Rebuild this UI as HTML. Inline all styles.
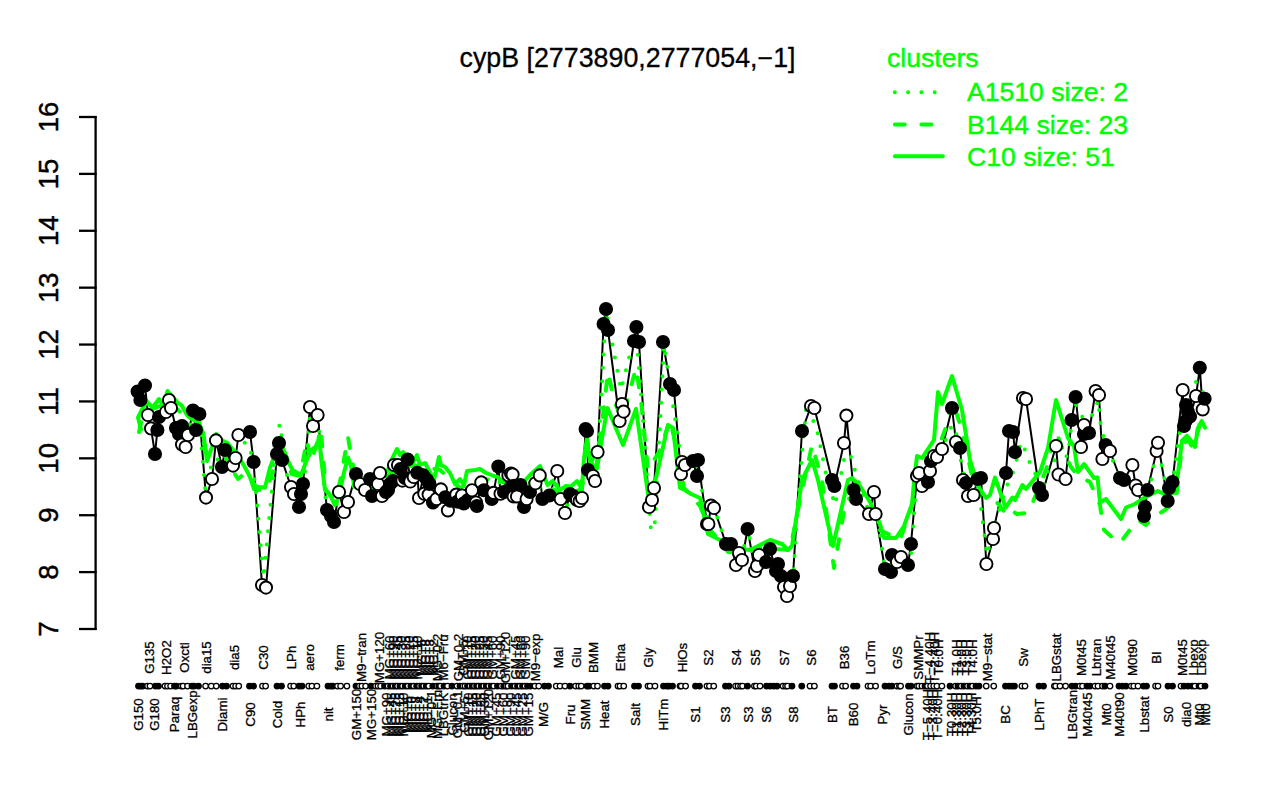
<!DOCTYPE html><html><head><meta charset="utf-8"><title>cypB</title><style>
html,body{margin:0;padding:0;background:#fff;}svg{display:block;}
text{font-family:"Liberation Sans",Arial,Helvetica,sans-serif;}
</style></head><body>
<svg width="1280" height="800" viewBox="0 0 1280 800">
<rect width="1280" height="800" fill="#fff"/>
<text x="627.5" y="67.2" font-size="26.8" text-anchor="middle" fill="#000" stroke="#000" stroke-width="0.3">cypB [2773890,2777054,−1]</text>
<g stroke="#000" stroke-width="2.3" fill="none" stroke-linecap="butt">
<line x1="95.6" y1="116" x2="95.6" y2="630"/>
<line x1="79" y1="629" x2="96.6" y2="629"/>
<line x1="79" y1="572.11" x2="96.6" y2="572.11"/>
<line x1="79" y1="515.22" x2="96.6" y2="515.22"/>
<line x1="79" y1="458.33" x2="96.6" y2="458.33"/>
<line x1="79" y1="401.44" x2="96.6" y2="401.44"/>
<line x1="79" y1="344.56" x2="96.6" y2="344.56"/>
<line x1="79" y1="287.67" x2="96.6" y2="287.67"/>
<line x1="79" y1="230.78" x2="96.6" y2="230.78"/>
<line x1="79" y1="173.89" x2="96.6" y2="173.89"/>
<line x1="79" y1="117" x2="96.6" y2="117"/>
</g>
<g font-size="27.5" text-anchor="middle" fill="#000" stroke="#000" stroke-width="0.45">
<text transform="translate(58.4 629) rotate(-90)">7</text>
<text transform="translate(58.4 572.11) rotate(-90)">8</text>
<text transform="translate(58.4 515.22) rotate(-90)">9</text>
<text transform="translate(58.4 458.33) rotate(-90)">10</text>
<text transform="translate(58.4 401.44) rotate(-90)">11</text>
<text transform="translate(58.4 344.56) rotate(-90)">12</text>
<text transform="translate(58.4 287.67) rotate(-90)">13</text>
<text transform="translate(58.4 230.78) rotate(-90)">14</text>
<text transform="translate(58.4 173.89) rotate(-90)">15</text>
<text transform="translate(58.4 117) rotate(-90)">16</text>
</g>
<g fill="#00ff00" font-size="26.6" stroke="#00ff00" stroke-width="0.45">
<text x="887" y="66.7">clusters</text>
<text x="967" y="101.3">A1510 size: 2</text>
<text x="967" y="133.6">B144 size: 23</text>
<text x="967" y="165.8">C10 size: 51</text>
</g>
<g stroke="#00ff00" stroke-width="4" fill="none">
<line x1="894.8" y1="92.3" x2="943" y2="92.3" stroke-dasharray="0 13.3" stroke-linecap="round"/>
<line x1="894.9" y1="124.5" x2="943" y2="124.5" stroke-dasharray="9.9 16.6" stroke-linecap="round"/>
<line x1="894.9" y1="156.3" x2="942.8" y2="156.3" stroke-linecap="round"/>
</g>
<polyline points="137.6,391.6 140.4,400 145,385.6 148,415 151,428.4 155,454 157.4,430 159,417 166,412 169,400 171,408 176,428 179,434 182,426 182,444.5 185.6,447 188,435 193,410.6 196,430 199.4,414 206,497.6 212,479 216,440.4 222,467 225,450 233,465.6 235.6,458 238.4,435 250,432 253.6,462 262,585 266,587.6 277,454 279,443 282,460 291,487 294,494 299,507 301,494 303,484 310,407 313,426 317.6,415 327,510 331,516 334,522 339,492 344,512 348,502 356,474 360,484 365,490 370,479 372,496 378,484 380,473 382,496 386,492 388,490 390,484 393,481 394,465 398,465 400.6,469 402.4,480.6 405,478 407.6,459.6 410.25,481.5 413.75,477 417.25,472.75 419,498 423.4,475.4 424.25,493.75 426.9,479.75 428.6,494.6 429.5,484 433,502.5 436.5,499 440.9,489.4 445.25,497.25 447.9,510.4 450.5,500.75 455,499 455.75,495.5 456.3,494.6 457.6,501.6 462,495.5 463.75,503.4 468,500 472,490.25 476,502.5 476.9,506 481.25,482.4 483.9,490.25 491.75,499 493.5,492.9 498.3,466.6 500.5,493.75 504,492 508.4,475.4 511,486.75 511,473.6 512.6,474.5 513.6,496.4 514.4,485.9 517,496.4 520.5,485 524,506.9 526.6,499 530,492 535.4,483.25 539.75,475.4 542.4,499 549.4,495.5 557.25,471 560.75,499 565,513 570,494 573,496 577,500 579.6,501 582,498 585.6,429 587,431 588,470 593,476 595,481 597.6,452 603.6,324 606,309 608,330 619.6,421 622,404 623.6,411.6 634,341 636.4,327 639,342 649,507 652,500 654,488 663,342 670,384 674,390 681,474 682,462 685,465 693,461 697,476 698,460 707,524 708.4,524 711,505.6 714,508 726,544 731,544 736,565 739,553 742,560 747.6,529 755,571 757,566 759,555 766,562 770,549 776,571 778,564 781,576 784,587 787,596 790,586 793,576 802,431 811,406 814.4,408 832,480 834.4,486 844,443 846.4,415.6 853.6,490 856,499 869,514 874,492 875.6,514 885,569 891,572 892,555 897,562 901,557 908,565 911,544 917,476 919,473 922,486 928,482 930,471 931,461 934,456 937,457 942,449 952,408 956,442 960,448 963,480 966,483 968,496 973.6,495 977.6,479 981,478 986.4,564 993,539 994,528 1006,473 1009,431 1013,432 1015,452 1023,398 1026,399 1039,488 1042,495 1056,446 1058.5,474.5 1065.6,479 1071.6,420 1075.6,397 1081,447 1084,434 1084,425 1089,433 1095.6,391 1099,395 1102.4,459 1105.6,445 1110,451 1120,478 1124,480 1132.4,465 1135.6,485.5 1138,490 1144,516 1145,507 1147.5,490 1156.6,451 1158,442.7 1167.7,501 1169,488 1172.5,482 1182.7,390 1184,426 1185.5,421.3 1186,405 1188,412 1190,416.5 1196,396 1199.8,367.8 1202.7,409.4 1204.6,398.7" fill="none" stroke="#000" stroke-width="2" stroke-linejoin="round"/>
<g fill="none" stroke="#00ff00" stroke-linejoin="round">
<polyline points="137.6,395.8 140.4,395.8 145,400.3 148,409.67 151,432.47 155,432.35 157.4,433.67 159,433.67 166,406 169,406.67 171,404 176,431 179,433.12 182,437.88 182,437.88 185.6,438.12 188,441 193,420.3 196,418.2 199.4,422 206,497.6 212,459.7 216,459.7 222,458.5 225,458.5 233,461.8 235.6,452.87 238.4,446.5 246,442 251,453 256,492 263.5,578 272.5,484 277,431 280,424 287.5,479 291,490.5 294,490.5 299,495 301,495 303,495 310,416.5 313,416.5 317.6,415 327,513 331,516 334,519 339,492 344,507 348,507 356,479 360,479 365,490 370,487.5 372,487.5 378,484.33 380,484.33 382,486.25 386,490.5 388,488.67 390,482.4 393,476.67 394,473.75 398,466.33 400.6,471.53 402.4,475.87 405,472.73 407.6,473.03 410.25,472.7 413.75,477.08 417.25,482.58 419,485.38 423.4,482.97 424.25,482.97 426.9,485.5 428.6,486.12 429.5,490.21 433,495.17 436.5,500.75 440.9,489.4 445.25,503.82 447.9,502.8 450.5,505.57 455,497.68 455.75,497.68 456.3,497.68 457.6,497.68 462,499.45 463.75,499.45 468,495.12 472,497.58 476,499.58 476.9,504.25 481.25,486.32 483.9,486.32 491.75,495.95 493.5,495.95 498.3,480.18 500.5,484.12 504,492.88 508.4,478.58 511,482.09 511,482.09 512.6,483.43 513.6,485.59 514.4,485.59 517,490.92 520.5,496.1 524,496.97 526.6,499.3 530,495.5 535.4,483.25 539.75,487.2 542.4,487.2 549.4,495.5 557.25,485 560.75,485 565,513 570,495 573,496.67 577,499 579.6,499.67 582,476 585.6,457 587,443.33 588,443.33 593,478.5 595,469.67 598,456 606,310 621,390 636,330 643,420 651,531 655,522 664,345 680,452 684,470 685,467 693,468.5 697,465.67 698,468 707,517.87 708.4,517.87 711,515.4 714,506.8 726,544 731,544 736,559 739,559.33 742,556.5 747.6,529 755,564 757,564 759,564 766,555.5 770,555.5 776,567.5 778,570.33 781,575.67 784,586.33 787,589.67 790,586 793,581 798,500 806,410 816,425 826,474 835,505 845,455 850,454 858,480 869,514 874,503 875.6,503 885,569 891,563.5 892,563.5 897,559.5 901,559.5 908,554.5 911,554.5 917,474.5 919,478.33 922,479.5 928,471.33 930,467.5 931,467.5 934,461.25 937,456.5 942,449 952,425 956,432.67 960,456.67 963,470.33 966,486.33 968,489.5 973.6,487 977.6,484 980,500 987,555 998,514 1006,488 1014,470 1021,442 1027,454 1031,467 1038,478 1042,491.5 1048,470 1056,458 1068,456 1071,429 1076,405 1084,420 1094,414 1098,400 1101,428 1106,445 1113,461 1118,470 1120,479 1124,479 1132.4,475.25 1135.6,480.17 1138,487.75 1144,504.33 1145,504.33 1147.5,504.33 1156.6,446.85 1158,446.85 1167.7,494.5 1169,490.33 1172.5,485 1182.7,410.57 1184,410.86 1185.5,410.86 1186,411.8 1188,416.16 1190,411.17 1196,381.9 1199.8,391.07 1202.7,391.97 1204.6,404.05" stroke-width="4" stroke-dasharray="0 13.3" stroke-linecap="round"/>
<polyline points="139,432 142,418 150,410 160,406 168,400 180,412 188,424 200,428 206,452 214,452 222,450 230,466 238,479 244,474 252,480 258,490 266,490 272,474 280,452 292,474 300,476 307,440 311,462 318,440 321,432 326,490 334,500 340,482 348,437 352,462 360,486 380,484 400,464 420,466 440,470 460,488 480,478 500,482 520,486 540,480 560,494 580,490 590,466 600,440 608,372 614,400 622,420 636,368 641,400 648,470 660,450 670,420 676,445 684,488 700,506 710,530 730,552 760,548 790,550 800,500 812,445 822,480 834,568 846,500 860,494 880,530 900,540 914,500 930,470 945,430 952,400 962,430 975,490 995,500 1008,516 1012,511 1017,514 1027.5,513 1032.5,503 1046,470 1056,432 1066,457 1071,467 1078,476 1090,482 1100,505 1102,519 1104,530 1114,539 1119,543 1123,539 1132,527 1138,520 1146,525 1152,518 1165,510 1176,500 1182,445 1188,440 1193,448 1200,424 1206,428" stroke-width="4" stroke-dasharray="9.9 16.6" stroke-linecap="round"/>
<polyline points="141,429.5 138,417.5 142,409.5 146.5,401 152.5,407.7 159,399 163,405.5 167.5,391 178,403 181.75,405.5 187,415 190,418 199,422.75 203.5,434 207,461 212,447 216.25,434 221.5,440 227.5,443 235,452 244,465.5 250,477 254,489 258,487 265,487.5 270,467.5 274,457.5 280,446 283.75,450 288.75,462.5 292.5,470 301,475 306,462 310,451 317.5,445 319,436 321,457.5 325,490 330,495 335,505 339,496 344,472.5 348,457.5 351,466 354,485 360,482 366,486 372,488 380,480 388,470 392,459 397,449 400,455 403,452 408,458 411,466 417,455 420,465 425,463 430,472 434,480 439,457 441,465 445,467 450,473 455,484 460,479 464,485 467,471 475,470 480,469 485.6,472.75 490,474.5 494.4,476.25 497.9,477 501.4,481.5 509,472 515,478 522,484 530,475 540,466 547.5,485 552.5,481 560,490 566,486 571,486.5 577,481 582,489 584,458 587,438 590,462 597,468.5 603,432.5 607.5,408 623,445 636,409 648,494 656,478 668,425 673,428 680,488 685,490 691,494 700,498 708,534 720,540 728,552 740,549 750,550 760,545 770,540 782,544 788,550 792,546 802,480 812,460 818,480 833,546 848,480 852,478 860,486 870,502 880,524 884,538 896,538 904,526 912,504 914,482 917,456 922,458 934,440 938,392 942,404 952,376 962,410 970,460 978,486 986,498 990,495 995,477.5 1005.6,507.5 1012.5,497.5 1015,500 1022.5,485 1026,489 1040,472 1048,448 1056,400 1068,438 1074,446 1078,472 1084,464 1094,478 1097.5,477.5 1100,502.5 1106,499 1121,519 1126,507.5 1135,504 1144.75,497.5 1157.75,491 1164,494 1175.6,492.7 1182,440.6 1187,435.8 1192,442 1195,447 1197.6,429 1201.7,421 1205,427.6" stroke-width="4" stroke-linecap="round"/>
</g>
<circle cx="137.6" cy="391.6" r="6.1" fill="#000" stroke="#000" stroke-width="1.9"/>
<circle cx="140.4" cy="400" r="6.1" fill="#000" stroke="#000" stroke-width="1.9"/>
<circle cx="145" cy="385.6" r="6.1" fill="#000" stroke="#000" stroke-width="1.9"/>
<circle cx="148" cy="415" r="6.1" fill="#fff" stroke="#000" stroke-width="1.9"/>
<circle cx="151" cy="428.4" r="6.1" fill="#fff" stroke="#000" stroke-width="1.9"/>
<circle cx="155" cy="454" r="6.1" fill="#000" stroke="#000" stroke-width="1.9"/>
<circle cx="157.4" cy="430" r="6.1" fill="#000" stroke="#000" stroke-width="1.9"/>
<circle cx="159" cy="417" r="6.1" fill="#000" stroke="#000" stroke-width="1.9"/>
<circle cx="166" cy="412" r="6.1" fill="#fff" stroke="#000" stroke-width="1.9"/>
<circle cx="169" cy="400" r="6.1" fill="#fff" stroke="#000" stroke-width="1.9"/>
<circle cx="171" cy="408" r="6.1" fill="#fff" stroke="#000" stroke-width="1.9"/>
<circle cx="176" cy="428" r="6.1" fill="#000" stroke="#000" stroke-width="1.9"/>
<circle cx="179" cy="434" r="6.1" fill="#000" stroke="#000" stroke-width="1.9"/>
<circle cx="182" cy="426" r="6.1" fill="#000" stroke="#000" stroke-width="1.9"/>
<circle cx="182" cy="444.5" r="6.1" fill="#fff" stroke="#000" stroke-width="1.9"/>
<circle cx="185.6" cy="447" r="6.1" fill="#fff" stroke="#000" stroke-width="1.9"/>
<circle cx="188" cy="435" r="6.1" fill="#fff" stroke="#000" stroke-width="1.9"/>
<circle cx="193" cy="410.6" r="6.1" fill="#000" stroke="#000" stroke-width="1.9"/>
<circle cx="196" cy="430" r="6.1" fill="#000" stroke="#000" stroke-width="1.9"/>
<circle cx="199.4" cy="414" r="6.1" fill="#000" stroke="#000" stroke-width="1.9"/>
<circle cx="206" cy="497.6" r="6.1" fill="#fff" stroke="#000" stroke-width="1.9"/>
<circle cx="212" cy="479" r="6.1" fill="#fff" stroke="#000" stroke-width="1.9"/>
<circle cx="216" cy="440.4" r="6.1" fill="#fff" stroke="#000" stroke-width="1.9"/>
<circle cx="222" cy="467" r="6.1" fill="#000" stroke="#000" stroke-width="1.9"/>
<circle cx="225" cy="450" r="6.1" fill="#000" stroke="#000" stroke-width="1.9"/>
<circle cx="233" cy="465.6" r="6.1" fill="#fff" stroke="#000" stroke-width="1.9"/>
<circle cx="235.6" cy="458" r="6.1" fill="#fff" stroke="#000" stroke-width="1.9"/>
<circle cx="238.4" cy="435" r="6.1" fill="#fff" stroke="#000" stroke-width="1.9"/>
<circle cx="250" cy="432" r="6.1" fill="#000" stroke="#000" stroke-width="1.9"/>
<circle cx="253.6" cy="462" r="6.1" fill="#000" stroke="#000" stroke-width="1.9"/>
<circle cx="262" cy="585" r="6.1" fill="#fff" stroke="#000" stroke-width="1.9"/>
<circle cx="266" cy="587.6" r="6.1" fill="#fff" stroke="#000" stroke-width="1.9"/>
<circle cx="277" cy="454" r="6.1" fill="#000" stroke="#000" stroke-width="1.9"/>
<circle cx="279" cy="443" r="6.1" fill="#000" stroke="#000" stroke-width="1.9"/>
<circle cx="282" cy="460" r="6.1" fill="#000" stroke="#000" stroke-width="1.9"/>
<circle cx="291" cy="487" r="6.1" fill="#fff" stroke="#000" stroke-width="1.9"/>
<circle cx="294" cy="494" r="6.1" fill="#fff" stroke="#000" stroke-width="1.9"/>
<circle cx="299" cy="507" r="6.1" fill="#000" stroke="#000" stroke-width="1.9"/>
<circle cx="301" cy="494" r="6.1" fill="#000" stroke="#000" stroke-width="1.9"/>
<circle cx="303" cy="484" r="6.1" fill="#000" stroke="#000" stroke-width="1.9"/>
<circle cx="310" cy="407" r="6.1" fill="#fff" stroke="#000" stroke-width="1.9"/>
<circle cx="313" cy="426" r="6.1" fill="#fff" stroke="#000" stroke-width="1.9"/>
<circle cx="317.6" cy="415" r="6.1" fill="#fff" stroke="#000" stroke-width="1.9"/>
<circle cx="327" cy="510" r="6.1" fill="#000" stroke="#000" stroke-width="1.9"/>
<circle cx="331" cy="516" r="6.1" fill="#000" stroke="#000" stroke-width="1.9"/>
<circle cx="334" cy="522" r="6.1" fill="#000" stroke="#000" stroke-width="1.9"/>
<circle cx="339" cy="492" r="6.1" fill="#fff" stroke="#000" stroke-width="1.9"/>
<circle cx="344" cy="512" r="6.1" fill="#fff" stroke="#000" stroke-width="1.9"/>
<circle cx="348" cy="502" r="6.1" fill="#fff" stroke="#000" stroke-width="1.9"/>
<circle cx="356" cy="474" r="6.1" fill="#000" stroke="#000" stroke-width="1.9"/>
<circle cx="360" cy="484" r="6.1" fill="#fff" stroke="#000" stroke-width="1.9"/>
<circle cx="365" cy="490" r="6.1" fill="#fff" stroke="#000" stroke-width="1.9"/>
<circle cx="370" cy="479" r="6.1" fill="#000" stroke="#000" stroke-width="1.9"/>
<circle cx="372" cy="496" r="6.1" fill="#000" stroke="#000" stroke-width="1.9"/>
<circle cx="378" cy="484" r="6.1" fill="#fff" stroke="#000" stroke-width="1.9"/>
<circle cx="380" cy="473" r="6.1" fill="#fff" stroke="#000" stroke-width="1.9"/>
<circle cx="382" cy="496" r="6.1" fill="#fff" stroke="#000" stroke-width="1.9"/>
<circle cx="386" cy="492" r="6.1" fill="#000" stroke="#000" stroke-width="1.9"/>
<circle cx="388" cy="490" r="6.1" fill="#000" stroke="#000" stroke-width="1.9"/>
<circle cx="390" cy="484" r="6.1" fill="#000" stroke="#000" stroke-width="1.9"/>
<circle cx="393" cy="481" r="6.1" fill="#000" stroke="#000" stroke-width="1.9"/>
<circle cx="394" cy="465" r="6.1" fill="#fff" stroke="#000" stroke-width="1.9"/>
<circle cx="398" cy="465" r="6.1" fill="#fff" stroke="#000" stroke-width="1.9"/>
<circle cx="400.6" cy="469" r="6.1" fill="#000" stroke="#000" stroke-width="1.9"/>
<circle cx="402.4" cy="480.6" r="6.1" fill="#fff" stroke="#000" stroke-width="1.9"/>
<circle cx="405" cy="478" r="6.1" fill="#000" stroke="#000" stroke-width="1.9"/>
<circle cx="407.6" cy="459.6" r="6.1" fill="#000" stroke="#000" stroke-width="1.9"/>
<circle cx="410.25" cy="481.5" r="6.1" fill="#fff" stroke="#000" stroke-width="1.9"/>
<circle cx="413.75" cy="477" r="6.1" fill="#fff" stroke="#000" stroke-width="1.9"/>
<circle cx="417.25" cy="472.75" r="6.1" fill="#000" stroke="#000" stroke-width="1.9"/>
<circle cx="419" cy="498" r="6.1" fill="#fff" stroke="#000" stroke-width="1.9"/>
<circle cx="423.4" cy="475.4" r="6.1" fill="#000" stroke="#000" stroke-width="1.9"/>
<circle cx="424.25" cy="493.75" r="6.1" fill="#fff" stroke="#000" stroke-width="1.9"/>
<circle cx="426.9" cy="479.75" r="6.1" fill="#000" stroke="#000" stroke-width="1.9"/>
<circle cx="428.6" cy="494.6" r="6.1" fill="#fff" stroke="#000" stroke-width="1.9"/>
<circle cx="429.5" cy="484" r="6.1" fill="#000" stroke="#000" stroke-width="1.9"/>
<circle cx="433" cy="502.5" r="6.1" fill="#000" stroke="#000" stroke-width="1.9"/>
<circle cx="436.5" cy="499" r="6.1" fill="#fff" stroke="#000" stroke-width="1.9"/>
<circle cx="440.9" cy="489.4" r="6.1" fill="#fff" stroke="#000" stroke-width="1.9"/>
<circle cx="445.25" cy="497.25" r="6.1" fill="#000" stroke="#000" stroke-width="1.9"/>
<circle cx="447.9" cy="510.4" r="6.1" fill="#fff" stroke="#000" stroke-width="1.9"/>
<circle cx="450.5" cy="500.75" r="6.1" fill="#000" stroke="#000" stroke-width="1.9"/>
<circle cx="455" cy="499" r="6.1" fill="#000" stroke="#000" stroke-width="1.9"/>
<circle cx="455.75" cy="495.5" r="6.1" fill="#fff" stroke="#000" stroke-width="1.9"/>
<circle cx="456.3" cy="494.6" r="6.1" fill="#fff" stroke="#000" stroke-width="1.9"/>
<circle cx="457.6" cy="501.6" r="6.1" fill="#000" stroke="#000" stroke-width="1.9"/>
<circle cx="462" cy="495.5" r="6.1" fill="#fff" stroke="#000" stroke-width="1.9"/>
<circle cx="463.75" cy="503.4" r="6.1" fill="#000" stroke="#000" stroke-width="1.9"/>
<circle cx="468" cy="500" r="6.1" fill="#000" stroke="#000" stroke-width="1.9"/>
<circle cx="472" cy="490.25" r="6.1" fill="#fff" stroke="#000" stroke-width="1.9"/>
<circle cx="476" cy="502.5" r="6.1" fill="#fff" stroke="#000" stroke-width="1.9"/>
<circle cx="476.9" cy="506" r="6.1" fill="#000" stroke="#000" stroke-width="1.9"/>
<circle cx="481.25" cy="482.4" r="6.1" fill="#fff" stroke="#000" stroke-width="1.9"/>
<circle cx="483.9" cy="490.25" r="6.1" fill="#000" stroke="#000" stroke-width="1.9"/>
<circle cx="491.75" cy="499" r="6.1" fill="#000" stroke="#000" stroke-width="1.9"/>
<circle cx="493.5" cy="492.9" r="6.1" fill="#fff" stroke="#000" stroke-width="1.9"/>
<circle cx="498.3" cy="466.6" r="6.1" fill="#000" stroke="#000" stroke-width="1.9"/>
<circle cx="500.5" cy="493.75" r="6.1" fill="#fff" stroke="#000" stroke-width="1.9"/>
<circle cx="504" cy="492" r="6.1" fill="#000" stroke="#000" stroke-width="1.9"/>
<circle cx="508.4" cy="475.4" r="6.1" fill="#fff" stroke="#000" stroke-width="1.9"/>
<circle cx="511" cy="486.75" r="6.1" fill="#000" stroke="#000" stroke-width="1.9"/>
<circle cx="511" cy="473.6" r="6.1" fill="#fff" stroke="#000" stroke-width="1.9"/>
<circle cx="512.6" cy="474.5" r="6.1" fill="#fff" stroke="#000" stroke-width="1.9"/>
<circle cx="513.6" cy="496.4" r="6.1" fill="#fff" stroke="#000" stroke-width="1.9"/>
<circle cx="514.4" cy="485.9" r="6.1" fill="#000" stroke="#000" stroke-width="1.9"/>
<circle cx="517" cy="496.4" r="6.1" fill="#fff" stroke="#000" stroke-width="1.9"/>
<circle cx="520.5" cy="485" r="6.1" fill="#000" stroke="#000" stroke-width="1.9"/>
<circle cx="524" cy="506.9" r="6.1" fill="#000" stroke="#000" stroke-width="1.9"/>
<circle cx="526.6" cy="499" r="6.1" fill="#fff" stroke="#000" stroke-width="1.9"/>
<circle cx="530" cy="492" r="6.1" fill="#000" stroke="#000" stroke-width="1.9"/>
<circle cx="535.4" cy="483.25" r="6.1" fill="#fff" stroke="#000" stroke-width="1.9"/>
<circle cx="539.75" cy="475.4" r="6.1" fill="#fff" stroke="#000" stroke-width="1.9"/>
<circle cx="542.4" cy="499" r="6.1" fill="#000" stroke="#000" stroke-width="1.9"/>
<circle cx="549.4" cy="495.5" r="6.1" fill="#000" stroke="#000" stroke-width="1.9"/>
<circle cx="557.25" cy="471" r="6.1" fill="#fff" stroke="#000" stroke-width="1.9"/>
<circle cx="560.75" cy="499" r="6.1" fill="#fff" stroke="#000" stroke-width="1.9"/>
<circle cx="565" cy="513" r="6.1" fill="#fff" stroke="#000" stroke-width="1.9"/>
<circle cx="570" cy="494" r="6.1" fill="#000" stroke="#000" stroke-width="1.9"/>
<circle cx="573" cy="496" r="6.1" fill="#000" stroke="#000" stroke-width="1.9"/>
<circle cx="577" cy="500" r="6.1" fill="#fff" stroke="#000" stroke-width="1.9"/>
<circle cx="579.6" cy="501" r="6.1" fill="#fff" stroke="#000" stroke-width="1.9"/>
<circle cx="582" cy="498" r="6.1" fill="#fff" stroke="#000" stroke-width="1.9"/>
<circle cx="585.6" cy="429" r="6.1" fill="#000" stroke="#000" stroke-width="1.9"/>
<circle cx="587" cy="431" r="6.1" fill="#000" stroke="#000" stroke-width="1.9"/>
<circle cx="588" cy="470" r="6.1" fill="#000" stroke="#000" stroke-width="1.9"/>
<circle cx="593" cy="476" r="6.1" fill="#fff" stroke="#000" stroke-width="1.9"/>
<circle cx="595" cy="481" r="6.1" fill="#fff" stroke="#000" stroke-width="1.9"/>
<circle cx="597.6" cy="452" r="6.1" fill="#fff" stroke="#000" stroke-width="1.9"/>
<circle cx="603.6" cy="324" r="6.1" fill="#000" stroke="#000" stroke-width="1.9"/>
<circle cx="606" cy="309" r="6.1" fill="#000" stroke="#000" stroke-width="1.9"/>
<circle cx="608" cy="330" r="6.1" fill="#000" stroke="#000" stroke-width="1.9"/>
<circle cx="619.6" cy="421" r="6.1" fill="#fff" stroke="#000" stroke-width="1.9"/>
<circle cx="622" cy="404" r="6.1" fill="#fff" stroke="#000" stroke-width="1.9"/>
<circle cx="623.6" cy="411.6" r="6.1" fill="#fff" stroke="#000" stroke-width="1.9"/>
<circle cx="634" cy="341" r="6.1" fill="#000" stroke="#000" stroke-width="1.9"/>
<circle cx="636.4" cy="327" r="6.1" fill="#000" stroke="#000" stroke-width="1.9"/>
<circle cx="639" cy="342" r="6.1" fill="#000" stroke="#000" stroke-width="1.9"/>
<circle cx="649" cy="507" r="6.1" fill="#fff" stroke="#000" stroke-width="1.9"/>
<circle cx="652" cy="500" r="6.1" fill="#fff" stroke="#000" stroke-width="1.9"/>
<circle cx="654" cy="488" r="6.1" fill="#fff" stroke="#000" stroke-width="1.9"/>
<circle cx="663" cy="342" r="6.1" fill="#000" stroke="#000" stroke-width="1.9"/>
<circle cx="670" cy="384" r="6.1" fill="#000" stroke="#000" stroke-width="1.9"/>
<circle cx="674" cy="390" r="6.1" fill="#000" stroke="#000" stroke-width="1.9"/>
<circle cx="681" cy="474" r="6.1" fill="#fff" stroke="#000" stroke-width="1.9"/>
<circle cx="682" cy="462" r="6.1" fill="#fff" stroke="#000" stroke-width="1.9"/>
<circle cx="685" cy="465" r="6.1" fill="#fff" stroke="#000" stroke-width="1.9"/>
<circle cx="693" cy="461" r="6.1" fill="#000" stroke="#000" stroke-width="1.9"/>
<circle cx="697" cy="476" r="6.1" fill="#000" stroke="#000" stroke-width="1.9"/>
<circle cx="698" cy="460" r="6.1" fill="#000" stroke="#000" stroke-width="1.9"/>
<circle cx="707" cy="524" r="6.1" fill="#fff" stroke="#000" stroke-width="1.9"/>
<circle cx="708.4" cy="524" r="6.1" fill="#fff" stroke="#000" stroke-width="1.9"/>
<circle cx="711" cy="505.6" r="6.1" fill="#fff" stroke="#000" stroke-width="1.9"/>
<circle cx="714" cy="508" r="6.1" fill="#fff" stroke="#000" stroke-width="1.9"/>
<circle cx="726" cy="544" r="6.1" fill="#000" stroke="#000" stroke-width="1.9"/>
<circle cx="731" cy="544" r="6.1" fill="#000" stroke="#000" stroke-width="1.9"/>
<circle cx="736" cy="565" r="6.1" fill="#fff" stroke="#000" stroke-width="1.9"/>
<circle cx="739" cy="553" r="6.1" fill="#fff" stroke="#000" stroke-width="1.9"/>
<circle cx="742" cy="560" r="6.1" fill="#fff" stroke="#000" stroke-width="1.9"/>
<circle cx="747.6" cy="529" r="6.1" fill="#000" stroke="#000" stroke-width="1.9"/>
<circle cx="755" cy="571" r="6.1" fill="#fff" stroke="#000" stroke-width="1.9"/>
<circle cx="757" cy="566" r="6.1" fill="#fff" stroke="#000" stroke-width="1.9"/>
<circle cx="759" cy="555" r="6.1" fill="#fff" stroke="#000" stroke-width="1.9"/>
<circle cx="766" cy="562" r="6.1" fill="#000" stroke="#000" stroke-width="1.9"/>
<circle cx="770" cy="549" r="6.1" fill="#000" stroke="#000" stroke-width="1.9"/>
<circle cx="776" cy="571" r="6.1" fill="#000" stroke="#000" stroke-width="1.9"/>
<circle cx="778" cy="564" r="6.1" fill="#000" stroke="#000" stroke-width="1.9"/>
<circle cx="781" cy="576" r="6.1" fill="#000" stroke="#000" stroke-width="1.9"/>
<circle cx="784" cy="587" r="6.1" fill="#fff" stroke="#000" stroke-width="1.9"/>
<circle cx="787" cy="596" r="6.1" fill="#fff" stroke="#000" stroke-width="1.9"/>
<circle cx="790" cy="586" r="6.1" fill="#fff" stroke="#000" stroke-width="1.9"/>
<circle cx="793" cy="576" r="6.1" fill="#000" stroke="#000" stroke-width="1.9"/>
<circle cx="802" cy="431" r="6.1" fill="#000" stroke="#000" stroke-width="1.9"/>
<circle cx="811" cy="406" r="6.1" fill="#fff" stroke="#000" stroke-width="1.9"/>
<circle cx="814.4" cy="408" r="6.1" fill="#fff" stroke="#000" stroke-width="1.9"/>
<circle cx="832" cy="480" r="6.1" fill="#000" stroke="#000" stroke-width="1.9"/>
<circle cx="834.4" cy="486" r="6.1" fill="#000" stroke="#000" stroke-width="1.9"/>
<circle cx="844" cy="443" r="6.1" fill="#fff" stroke="#000" stroke-width="1.9"/>
<circle cx="846.4" cy="415.6" r="6.1" fill="#fff" stroke="#000" stroke-width="1.9"/>
<circle cx="853.6" cy="490" r="6.1" fill="#000" stroke="#000" stroke-width="1.9"/>
<circle cx="856" cy="499" r="6.1" fill="#000" stroke="#000" stroke-width="1.9"/>
<circle cx="869" cy="514" r="6.1" fill="#fff" stroke="#000" stroke-width="1.9"/>
<circle cx="874" cy="492" r="6.1" fill="#fff" stroke="#000" stroke-width="1.9"/>
<circle cx="875.6" cy="514" r="6.1" fill="#fff" stroke="#000" stroke-width="1.9"/>
<circle cx="885" cy="569" r="6.1" fill="#000" stroke="#000" stroke-width="1.9"/>
<circle cx="891" cy="572" r="6.1" fill="#000" stroke="#000" stroke-width="1.9"/>
<circle cx="892" cy="555" r="6.1" fill="#000" stroke="#000" stroke-width="1.9"/>
<circle cx="897" cy="562" r="6.1" fill="#fff" stroke="#000" stroke-width="1.9"/>
<circle cx="901" cy="557" r="6.1" fill="#fff" stroke="#000" stroke-width="1.9"/>
<circle cx="908" cy="565" r="6.1" fill="#000" stroke="#000" stroke-width="1.9"/>
<circle cx="911" cy="544" r="6.1" fill="#000" stroke="#000" stroke-width="1.9"/>
<circle cx="917" cy="476" r="6.1" fill="#fff" stroke="#000" stroke-width="1.9"/>
<circle cx="919" cy="473" r="6.1" fill="#fff" stroke="#000" stroke-width="1.9"/>
<circle cx="922" cy="486" r="6.1" fill="#fff" stroke="#000" stroke-width="1.9"/>
<circle cx="928" cy="482" r="6.1" fill="#000" stroke="#000" stroke-width="1.9"/>
<circle cx="930" cy="471" r="6.1" fill="#fff" stroke="#000" stroke-width="1.9"/>
<circle cx="931" cy="461" r="6.1" fill="#000" stroke="#000" stroke-width="1.9"/>
<circle cx="934" cy="456" r="6.1" fill="#fff" stroke="#000" stroke-width="1.9"/>
<circle cx="937" cy="457" r="6.1" fill="#fff" stroke="#000" stroke-width="1.9"/>
<circle cx="942" cy="449" r="6.1" fill="#fff" stroke="#000" stroke-width="1.9"/>
<circle cx="952" cy="408" r="6.1" fill="#000" stroke="#000" stroke-width="1.9"/>
<circle cx="956" cy="442" r="6.1" fill="#fff" stroke="#000" stroke-width="1.9"/>
<circle cx="960" cy="448" r="6.1" fill="#000" stroke="#000" stroke-width="1.9"/>
<circle cx="963" cy="480" r="6.1" fill="#fff" stroke="#000" stroke-width="1.9"/>
<circle cx="966" cy="483" r="6.1" fill="#000" stroke="#000" stroke-width="1.9"/>
<circle cx="968" cy="496" r="6.1" fill="#fff" stroke="#000" stroke-width="1.9"/>
<circle cx="973.6" cy="495" r="6.1" fill="#fff" stroke="#000" stroke-width="1.9"/>
<circle cx="977.6" cy="479" r="6.1" fill="#000" stroke="#000" stroke-width="1.9"/>
<circle cx="981" cy="478" r="6.1" fill="#000" stroke="#000" stroke-width="1.9"/>
<circle cx="986.4" cy="564" r="6.1" fill="#fff" stroke="#000" stroke-width="1.9"/>
<circle cx="993" cy="539" r="6.1" fill="#fff" stroke="#000" stroke-width="1.9"/>
<circle cx="994" cy="528" r="6.1" fill="#fff" stroke="#000" stroke-width="1.9"/>
<circle cx="1006" cy="473" r="6.1" fill="#000" stroke="#000" stroke-width="1.9"/>
<circle cx="1009" cy="431" r="6.1" fill="#000" stroke="#000" stroke-width="1.9"/>
<circle cx="1013" cy="432" r="6.1" fill="#000" stroke="#000" stroke-width="1.9"/>
<circle cx="1015" cy="452" r="6.1" fill="#000" stroke="#000" stroke-width="1.9"/>
<circle cx="1023" cy="398" r="6.1" fill="#fff" stroke="#000" stroke-width="1.9"/>
<circle cx="1026" cy="399" r="6.1" fill="#fff" stroke="#000" stroke-width="1.9"/>
<circle cx="1039" cy="488" r="6.1" fill="#000" stroke="#000" stroke-width="1.9"/>
<circle cx="1042" cy="495" r="6.1" fill="#000" stroke="#000" stroke-width="1.9"/>
<circle cx="1056" cy="446" r="6.1" fill="#fff" stroke="#000" stroke-width="1.9"/>
<circle cx="1058.5" cy="474.5" r="6.1" fill="#fff" stroke="#000" stroke-width="1.9"/>
<circle cx="1065.6" cy="479" r="6.1" fill="#fff" stroke="#000" stroke-width="1.9"/>
<circle cx="1071.6" cy="420" r="6.1" fill="#000" stroke="#000" stroke-width="1.9"/>
<circle cx="1075.6" cy="397" r="6.1" fill="#000" stroke="#000" stroke-width="1.9"/>
<circle cx="1081" cy="447" r="6.1" fill="#fff" stroke="#000" stroke-width="1.9"/>
<circle cx="1084" cy="434" r="6.1" fill="#000" stroke="#000" stroke-width="1.9"/>
<circle cx="1084" cy="425" r="6.1" fill="#fff" stroke="#000" stroke-width="1.9"/>
<circle cx="1089" cy="433" r="6.1" fill="#000" stroke="#000" stroke-width="1.9"/>
<circle cx="1095.6" cy="391" r="6.1" fill="#fff" stroke="#000" stroke-width="1.9"/>
<circle cx="1099" cy="395" r="6.1" fill="#fff" stroke="#000" stroke-width="1.9"/>
<circle cx="1102.4" cy="459" r="6.1" fill="#fff" stroke="#000" stroke-width="1.9"/>
<circle cx="1105.6" cy="445" r="6.1" fill="#000" stroke="#000" stroke-width="1.9"/>
<circle cx="1110" cy="451" r="6.1" fill="#fff" stroke="#000" stroke-width="1.9"/>
<circle cx="1120" cy="478" r="6.1" fill="#000" stroke="#000" stroke-width="1.9"/>
<circle cx="1124" cy="480" r="6.1" fill="#000" stroke="#000" stroke-width="1.9"/>
<circle cx="1132.4" cy="465" r="6.1" fill="#fff" stroke="#000" stroke-width="1.9"/>
<circle cx="1135.6" cy="485.5" r="6.1" fill="#fff" stroke="#000" stroke-width="1.9"/>
<circle cx="1138" cy="490" r="6.1" fill="#fff" stroke="#000" stroke-width="1.9"/>
<circle cx="1144" cy="516" r="6.1" fill="#000" stroke="#000" stroke-width="1.9"/>
<circle cx="1145" cy="507" r="6.1" fill="#000" stroke="#000" stroke-width="1.9"/>
<circle cx="1147.5" cy="490" r="6.1" fill="#000" stroke="#000" stroke-width="1.9"/>
<circle cx="1156.6" cy="451" r="6.1" fill="#fff" stroke="#000" stroke-width="1.9"/>
<circle cx="1158" cy="442.7" r="6.1" fill="#fff" stroke="#000" stroke-width="1.9"/>
<circle cx="1167.7" cy="501" r="6.1" fill="#000" stroke="#000" stroke-width="1.9"/>
<circle cx="1169" cy="488" r="6.1" fill="#000" stroke="#000" stroke-width="1.9"/>
<circle cx="1172.5" cy="482" r="6.1" fill="#000" stroke="#000" stroke-width="1.9"/>
<circle cx="1182.7" cy="390" r="6.1" fill="#fff" stroke="#000" stroke-width="1.9"/>
<circle cx="1184" cy="426" r="6.1" fill="#000" stroke="#000" stroke-width="1.9"/>
<circle cx="1185.5" cy="421.3" r="6.1" fill="#000" stroke="#000" stroke-width="1.9"/>
<circle cx="1186" cy="405" r="6.1" fill="#000" stroke="#000" stroke-width="1.9"/>
<circle cx="1188" cy="412" r="6.1" fill="#000" stroke="#000" stroke-width="1.9"/>
<circle cx="1190" cy="416.5" r="6.1" fill="#000" stroke="#000" stroke-width="1.9"/>
<circle cx="1196" cy="396" r="6.1" fill="#fff" stroke="#000" stroke-width="1.9"/>
<circle cx="1199.8" cy="367.8" r="6.1" fill="#000" stroke="#000" stroke-width="1.9"/>
<circle cx="1202.7" cy="409.4" r="6.1" fill="#fff" stroke="#000" stroke-width="1.9"/>
<circle cx="1204.6" cy="398.7" r="6.1" fill="#000" stroke="#000" stroke-width="1.9"/>
<circle cx="138.5" cy="686.1" r="2.75" fill="#000" stroke="#000" stroke-width="1.3"/>
<circle cx="140.6" cy="686.1" r="2.75" fill="#000" stroke="#000" stroke-width="1.3"/>
<circle cx="142.7" cy="686.1" r="2.75" fill="#000" stroke="#000" stroke-width="1.3"/>
<circle cx="147.5" cy="686.1" r="2.75" fill="#fff" stroke="#000" stroke-width="1.3"/>
<circle cx="150" cy="686.1" r="2.75" fill="#fff" stroke="#000" stroke-width="1.3"/>
<circle cx="155.5" cy="686.1" r="2.75" fill="#000" stroke="#000" stroke-width="1.3"/>
<circle cx="158.5" cy="686.1" r="2.75" fill="#000" stroke="#000" stroke-width="1.3"/>
<circle cx="165" cy="686.1" r="2.75" fill="#fff" stroke="#000" stroke-width="1.3"/>
<circle cx="167.5" cy="686.1" r="2.75" fill="#fff" stroke="#000" stroke-width="1.3"/>
<circle cx="170.6" cy="686.1" r="2.75" fill="#fff" stroke="#000" stroke-width="1.3"/>
<circle cx="174.5" cy="686.1" r="2.75" fill="#000" stroke="#000" stroke-width="1.3"/>
<circle cx="176.5" cy="686.1" r="2.75" fill="#000" stroke="#000" stroke-width="1.3"/>
<circle cx="181.25" cy="686.1" r="2.75" fill="#fff" stroke="#000" stroke-width="1.3"/>
<circle cx="183.1" cy="686.1" r="2.75" fill="#fff" stroke="#000" stroke-width="1.3"/>
<circle cx="187.5" cy="686.1" r="2.75" fill="#fff" stroke="#000" stroke-width="1.3"/>
<circle cx="192" cy="686.1" r="2.75" fill="#000" stroke="#000" stroke-width="1.3"/>
<circle cx="194" cy="686.1" r="2.75" fill="#000" stroke="#000" stroke-width="1.3"/>
<circle cx="198.5" cy="686.1" r="2.75" fill="#000" stroke="#000" stroke-width="1.3"/>
<circle cx="205.6" cy="686.1" r="2.75" fill="#fff" stroke="#000" stroke-width="1.3"/>
<circle cx="211.25" cy="686.1" r="2.75" fill="#fff" stroke="#000" stroke-width="1.3"/>
<circle cx="216.25" cy="686.1" r="2.75" fill="#fff" stroke="#000" stroke-width="1.3"/>
<circle cx="222.5" cy="686.1" r="2.75" fill="#000" stroke="#000" stroke-width="1.3"/>
<circle cx="226.5" cy="686.1" r="2.75" fill="#000" stroke="#000" stroke-width="1.3"/>
<circle cx="233" cy="686.1" r="2.75" fill="#fff" stroke="#000" stroke-width="1.3"/>
<circle cx="235.6" cy="686.1" r="2.75" fill="#fff" stroke="#000" stroke-width="1.3"/>
<circle cx="238.75" cy="686.1" r="2.75" fill="#fff" stroke="#000" stroke-width="1.3"/>
<circle cx="249.5" cy="686.1" r="2.75" fill="#000" stroke="#000" stroke-width="1.3"/>
<circle cx="253.5" cy="686.1" r="2.75" fill="#000" stroke="#000" stroke-width="1.3"/>
<circle cx="262.5" cy="686.1" r="2.75" fill="#fff" stroke="#000" stroke-width="1.3"/>
<circle cx="265.6" cy="686.1" r="2.75" fill="#fff" stroke="#000" stroke-width="1.3"/>
<circle cx="277" cy="686.1" r="2.75" fill="#000" stroke="#000" stroke-width="1.3"/>
<circle cx="281.5" cy="686.1" r="2.75" fill="#000" stroke="#000" stroke-width="1.3"/>
<circle cx="290.6" cy="686.1" r="2.75" fill="#fff" stroke="#000" stroke-width="1.3"/>
<circle cx="293.75" cy="686.1" r="2.75" fill="#fff" stroke="#000" stroke-width="1.3"/>
<circle cx="299" cy="686.1" r="2.75" fill="#000" stroke="#000" stroke-width="1.3"/>
<circle cx="302" cy="686.1" r="2.75" fill="#000" stroke="#000" stroke-width="1.3"/>
<circle cx="308.75" cy="686.1" r="2.75" fill="#fff" stroke="#000" stroke-width="1.3"/>
<circle cx="311.9" cy="686.1" r="2.75" fill="#fff" stroke="#000" stroke-width="1.3"/>
<circle cx="316.9" cy="686.1" r="2.75" fill="#fff" stroke="#000" stroke-width="1.3"/>
<circle cx="328" cy="686.1" r="2.75" fill="#000" stroke="#000" stroke-width="1.3"/>
<circle cx="331" cy="686.1" r="2.75" fill="#000" stroke="#000" stroke-width="1.3"/>
<circle cx="333" cy="686.1" r="2.75" fill="#000" stroke="#000" stroke-width="1.3"/>
<circle cx="337.5" cy="686.1" r="2.75" fill="#fff" stroke="#000" stroke-width="1.3"/>
<circle cx="340.6" cy="686.1" r="2.75" fill="#fff" stroke="#000" stroke-width="1.3"/>
<circle cx="346.9" cy="686.1" r="2.75" fill="#fff" stroke="#000" stroke-width="1.3"/>
<circle cx="356" cy="686.1" r="2.75" fill="#000" stroke="#000" stroke-width="1.3"/>
<circle cx="359.4" cy="686.1" r="2.75" fill="#fff" stroke="#000" stroke-width="1.3"/>
<circle cx="361.9" cy="686.1" r="2.75" fill="#fff" stroke="#000" stroke-width="1.3"/>
<circle cx="365.6" cy="686.1" r="2.75" fill="#fff" stroke="#000" stroke-width="1.3"/>
<circle cx="371" cy="686.1" r="2.75" fill="#000" stroke="#000" stroke-width="1.3"/>
<circle cx="375.6" cy="686.1" r="2.75" fill="#fff" stroke="#000" stroke-width="1.3"/>
<circle cx="378" cy="686.1" r="2.75" fill="#fff" stroke="#000" stroke-width="1.3"/>
<circle cx="380.6" cy="686.1" r="2.75" fill="#fff" stroke="#000" stroke-width="1.3"/>
<circle cx="384.5" cy="686.1" r="2.75" fill="#000" stroke="#000" stroke-width="1.3"/>
<circle cx="388" cy="686.1" r="2.75" fill="#fff" stroke="#000" stroke-width="1.3"/>
<circle cx="390.5" cy="686.1" r="2.75" fill="#000" stroke="#000" stroke-width="1.3"/>
<circle cx="393" cy="686.1" r="2.75" fill="#fff" stroke="#000" stroke-width="1.3"/>
<circle cx="395.25" cy="686.1" r="2.75" fill="#000" stroke="#000" stroke-width="1.3"/>
<circle cx="397.5" cy="686.1" r="2.75" fill="#fff" stroke="#000" stroke-width="1.3"/>
<circle cx="400" cy="686.1" r="2.75" fill="#000" stroke="#000" stroke-width="1.3"/>
<circle cx="402.5" cy="686.1" r="2.75" fill="#fff" stroke="#000" stroke-width="1.3"/>
<circle cx="405.25" cy="686.1" r="2.75" fill="#000" stroke="#000" stroke-width="1.3"/>
<circle cx="408" cy="686.1" r="2.75" fill="#fff" stroke="#000" stroke-width="1.3"/>
<circle cx="410.9" cy="686.1" r="2.75" fill="#000" stroke="#000" stroke-width="1.3"/>
<circle cx="413.75" cy="686.1" r="2.75" fill="#fff" stroke="#000" stroke-width="1.3"/>
<circle cx="416.6" cy="686.1" r="2.75" fill="#000" stroke="#000" stroke-width="1.3"/>
<circle cx="419.4" cy="686.1" r="2.75" fill="#fff" stroke="#000" stroke-width="1.3"/>
<circle cx="421.6" cy="686.1" r="2.75" fill="#000" stroke="#000" stroke-width="1.3"/>
<circle cx="423.75" cy="686.1" r="2.75" fill="#fff" stroke="#000" stroke-width="1.3"/>
<circle cx="426.25" cy="686.1" r="2.75" fill="#000" stroke="#000" stroke-width="1.3"/>
<circle cx="428.75" cy="686.1" r="2.75" fill="#fff" stroke="#000" stroke-width="1.3"/>
<circle cx="432.8" cy="686.1" r="2.75" fill="#000" stroke="#000" stroke-width="1.3"/>
<circle cx="436.9" cy="686.1" r="2.75" fill="#fff" stroke="#000" stroke-width="1.3"/>
<circle cx="438.75" cy="686.1" r="2.75" fill="#000" stroke="#000" stroke-width="1.3"/>
<circle cx="440.6" cy="686.1" r="2.75" fill="#fff" stroke="#000" stroke-width="1.3"/>
<circle cx="444" cy="686.1" r="2.75" fill="#000" stroke="#000" stroke-width="1.3"/>
<circle cx="447.5" cy="686.1" r="2.75" fill="#fff" stroke="#000" stroke-width="1.3"/>
<circle cx="452" cy="686.1" r="2.75" fill="#000" stroke="#000" stroke-width="1.3"/>
<circle cx="457" cy="686.1" r="2.75" fill="#fff" stroke="#000" stroke-width="1.3"/>
<circle cx="460" cy="686.1" r="2.75" fill="#000" stroke="#000" stroke-width="1.3"/>
<circle cx="463" cy="686.1" r="2.75" fill="#fff" stroke="#000" stroke-width="1.3"/>
<circle cx="465" cy="686.1" r="2.75" fill="#fff" stroke="#000" stroke-width="1.3"/>
<circle cx="467.5" cy="686.1" r="2.75" fill="#000" stroke="#000" stroke-width="1.3"/>
<circle cx="470" cy="686.1" r="2.75" fill="#fff" stroke="#000" stroke-width="1.3"/>
<circle cx="472.2" cy="686.1" r="2.75" fill="#000" stroke="#000" stroke-width="1.3"/>
<circle cx="474.4" cy="686.1" r="2.75" fill="#fff" stroke="#000" stroke-width="1.3"/>
<circle cx="476.6" cy="686.1" r="2.75" fill="#000" stroke="#000" stroke-width="1.3"/>
<circle cx="478.75" cy="686.1" r="2.75" fill="#fff" stroke="#000" stroke-width="1.3"/>
<circle cx="481.25" cy="686.1" r="2.75" fill="#000" stroke="#000" stroke-width="1.3"/>
<circle cx="483.75" cy="686.1" r="2.75" fill="#fff" stroke="#000" stroke-width="1.3"/>
<circle cx="486.25" cy="686.1" r="2.75" fill="#000" stroke="#000" stroke-width="1.3"/>
<circle cx="488.75" cy="686.1" r="2.75" fill="#fff" stroke="#000" stroke-width="1.3"/>
<circle cx="491.25" cy="686.1" r="2.75" fill="#000" stroke="#000" stroke-width="1.3"/>
<circle cx="493.75" cy="686.1" r="2.75" fill="#fff" stroke="#000" stroke-width="1.3"/>
<circle cx="497.5" cy="686.1" r="2.75" fill="#000" stroke="#000" stroke-width="1.3"/>
<circle cx="501.25" cy="686.1" r="2.75" fill="#fff" stroke="#000" stroke-width="1.3"/>
<circle cx="503.75" cy="686.1" r="2.75" fill="#000" stroke="#000" stroke-width="1.3"/>
<circle cx="506.25" cy="686.1" r="2.75" fill="#fff" stroke="#000" stroke-width="1.3"/>
<circle cx="508" cy="686.1" r="2.75" fill="#fff" stroke="#000" stroke-width="1.3"/>
<circle cx="511.5" cy="686.1" r="2.75" fill="#000" stroke="#000" stroke-width="1.3"/>
<circle cx="515" cy="686.1" r="2.75" fill="#fff" stroke="#000" stroke-width="1.3"/>
<circle cx="517.5" cy="686.1" r="2.75" fill="#000" stroke="#000" stroke-width="1.3"/>
<circle cx="520" cy="686.1" r="2.75" fill="#fff" stroke="#000" stroke-width="1.3"/>
<circle cx="522.5" cy="686.1" r="2.75" fill="#000" stroke="#000" stroke-width="1.3"/>
<circle cx="525" cy="686.1" r="2.75" fill="#fff" stroke="#000" stroke-width="1.3"/>
<circle cx="527.5" cy="686.1" r="2.75" fill="#000" stroke="#000" stroke-width="1.3"/>
<circle cx="530.5" cy="686.1" r="2.75" fill="#000" stroke="#000" stroke-width="1.3"/>
<circle cx="535" cy="686.1" r="2.75" fill="#fff" stroke="#000" stroke-width="1.3"/>
<circle cx="538.75" cy="686.1" r="2.75" fill="#fff" stroke="#000" stroke-width="1.3"/>
<circle cx="544.5" cy="686.1" r="2.75" fill="#000" stroke="#000" stroke-width="1.3"/>
<circle cx="548.5" cy="686.1" r="2.75" fill="#000" stroke="#000" stroke-width="1.3"/>
<circle cx="556.25" cy="686.1" r="2.75" fill="#fff" stroke="#000" stroke-width="1.3"/>
<circle cx="560" cy="686.1" r="2.75" fill="#fff" stroke="#000" stroke-width="1.3"/>
<circle cx="565" cy="686.1" r="2.75" fill="#fff" stroke="#000" stroke-width="1.3"/>
<circle cx="570" cy="686.1" r="2.75" fill="#000" stroke="#000" stroke-width="1.3"/>
<circle cx="575.6" cy="686.1" r="2.75" fill="#fff" stroke="#000" stroke-width="1.3"/>
<circle cx="578.75" cy="686.1" r="2.75" fill="#fff" stroke="#000" stroke-width="1.3"/>
<circle cx="581.25" cy="686.1" r="2.75" fill="#fff" stroke="#000" stroke-width="1.3"/>
<circle cx="587" cy="686.1" r="2.75" fill="#000" stroke="#000" stroke-width="1.3"/>
<circle cx="589" cy="686.1" r="2.75" fill="#000" stroke="#000" stroke-width="1.3"/>
<circle cx="593.75" cy="686.1" r="2.75" fill="#fff" stroke="#000" stroke-width="1.3"/>
<circle cx="597.5" cy="686.1" r="2.75" fill="#fff" stroke="#000" stroke-width="1.3"/>
<circle cx="604.5" cy="686.1" r="2.75" fill="#000" stroke="#000" stroke-width="1.3"/>
<circle cx="608" cy="686.1" r="2.75" fill="#000" stroke="#000" stroke-width="1.3"/>
<circle cx="618" cy="686.1" r="2.75" fill="#fff" stroke="#000" stroke-width="1.3"/>
<circle cx="620" cy="686.1" r="2.75" fill="#fff" stroke="#000" stroke-width="1.3"/>
<circle cx="623.75" cy="686.1" r="2.75" fill="#fff" stroke="#000" stroke-width="1.3"/>
<circle cx="634.5" cy="686.1" r="2.75" fill="#000" stroke="#000" stroke-width="1.3"/>
<circle cx="638.5" cy="686.1" r="2.75" fill="#000" stroke="#000" stroke-width="1.3"/>
<circle cx="648" cy="686.1" r="2.75" fill="#fff" stroke="#000" stroke-width="1.3"/>
<circle cx="650" cy="686.1" r="2.75" fill="#fff" stroke="#000" stroke-width="1.3"/>
<circle cx="655" cy="686.1" r="2.75" fill="#fff" stroke="#000" stroke-width="1.3"/>
<circle cx="663.5" cy="686.1" r="2.75" fill="#000" stroke="#000" stroke-width="1.3"/>
<circle cx="667" cy="686.1" r="2.75" fill="#000" stroke="#000" stroke-width="1.3"/>
<circle cx="669" cy="686.1" r="2.75" fill="#000" stroke="#000" stroke-width="1.3"/>
<circle cx="672.5" cy="686.1" r="2.75" fill="#000" stroke="#000" stroke-width="1.3"/>
<circle cx="680" cy="686.1" r="2.75" fill="#fff" stroke="#000" stroke-width="1.3"/>
<circle cx="681.25" cy="686.1" r="2.75" fill="#fff" stroke="#000" stroke-width="1.3"/>
<circle cx="685.6" cy="686.1" r="2.75" fill="#fff" stroke="#000" stroke-width="1.3"/>
<circle cx="695.5" cy="686.1" r="2.75" fill="#000" stroke="#000" stroke-width="1.3"/>
<circle cx="699.5" cy="686.1" r="2.75" fill="#000" stroke="#000" stroke-width="1.3"/>
<circle cx="707" cy="686.1" r="2.75" fill="#fff" stroke="#000" stroke-width="1.3"/>
<circle cx="709.4" cy="686.1" r="2.75" fill="#fff" stroke="#000" stroke-width="1.3"/>
<circle cx="713.75" cy="686.1" r="2.75" fill="#fff" stroke="#000" stroke-width="1.3"/>
<circle cx="725.5" cy="686.1" r="2.75" fill="#000" stroke="#000" stroke-width="1.3"/>
<circle cx="729" cy="686.1" r="2.75" fill="#000" stroke="#000" stroke-width="1.3"/>
<circle cx="735.6" cy="686.1" r="2.75" fill="#fff" stroke="#000" stroke-width="1.3"/>
<circle cx="738" cy="686.1" r="2.75" fill="#fff" stroke="#000" stroke-width="1.3"/>
<circle cx="740.6" cy="686.1" r="2.75" fill="#fff" stroke="#000" stroke-width="1.3"/>
<circle cx="742.5" cy="686.1" r="2.75" fill="#fff" stroke="#000" stroke-width="1.3"/>
<circle cx="747.5" cy="686.1" r="2.75" fill="#000" stroke="#000" stroke-width="1.3"/>
<circle cx="754.4" cy="686.1" r="2.75" fill="#fff" stroke="#000" stroke-width="1.3"/>
<circle cx="756.25" cy="686.1" r="2.75" fill="#fff" stroke="#000" stroke-width="1.3"/>
<circle cx="760" cy="686.1" r="2.75" fill="#fff" stroke="#000" stroke-width="1.3"/>
<circle cx="766.5" cy="686.1" r="2.75" fill="#000" stroke="#000" stroke-width="1.3"/>
<circle cx="770" cy="686.1" r="2.75" fill="#000" stroke="#000" stroke-width="1.3"/>
<circle cx="773.5" cy="686.1" r="2.75" fill="#000" stroke="#000" stroke-width="1.3"/>
<circle cx="777" cy="686.1" r="2.75" fill="#000" stroke="#000" stroke-width="1.3"/>
<circle cx="783" cy="686.1" r="2.75" fill="#fff" stroke="#000" stroke-width="1.3"/>
<circle cx="785.6" cy="686.1" r="2.75" fill="#fff" stroke="#000" stroke-width="1.3"/>
<circle cx="787.5" cy="686.1" r="2.75" fill="#fff" stroke="#000" stroke-width="1.3"/>
<circle cx="792" cy="686.1" r="2.75" fill="#000" stroke="#000" stroke-width="1.3"/>
<circle cx="801.75" cy="686.1" r="2.75" fill="#000" stroke="#000" stroke-width="1.3"/>
<circle cx="810" cy="686.1" r="2.75" fill="#fff" stroke="#000" stroke-width="1.3"/>
<circle cx="814.4" cy="686.1" r="2.75" fill="#fff" stroke="#000" stroke-width="1.3"/>
<circle cx="832" cy="686.1" r="2.75" fill="#000" stroke="#000" stroke-width="1.3"/>
<circle cx="834.5" cy="686.1" r="2.75" fill="#000" stroke="#000" stroke-width="1.3"/>
<circle cx="842.5" cy="686.1" r="2.75" fill="#fff" stroke="#000" stroke-width="1.3"/>
<circle cx="845.6" cy="686.1" r="2.75" fill="#fff" stroke="#000" stroke-width="1.3"/>
<circle cx="853.5" cy="686.1" r="2.75" fill="#000" stroke="#000" stroke-width="1.3"/>
<circle cx="857" cy="686.1" r="2.75" fill="#000" stroke="#000" stroke-width="1.3"/>
<circle cx="868" cy="686.1" r="2.75" fill="#fff" stroke="#000" stroke-width="1.3"/>
<circle cx="870.6" cy="686.1" r="2.75" fill="#fff" stroke="#000" stroke-width="1.3"/>
<circle cx="875.6" cy="686.1" r="2.75" fill="#fff" stroke="#000" stroke-width="1.3"/>
<circle cx="885" cy="686.1" r="2.75" fill="#000" stroke="#000" stroke-width="1.3"/>
<circle cx="889" cy="686.1" r="2.75" fill="#000" stroke="#000" stroke-width="1.3"/>
<circle cx="892" cy="686.1" r="2.75" fill="#000" stroke="#000" stroke-width="1.3"/>
<circle cx="897" cy="686.1" r="2.75" fill="#fff" stroke="#000" stroke-width="1.3"/>
<circle cx="899.4" cy="686.1" r="2.75" fill="#fff" stroke="#000" stroke-width="1.3"/>
<circle cx="900.6" cy="686.1" r="2.75" fill="#fff" stroke="#000" stroke-width="1.3"/>
<circle cx="908.5" cy="686.1" r="2.75" fill="#000" stroke="#000" stroke-width="1.3"/>
<circle cx="911" cy="686.1" r="2.75" fill="#000" stroke="#000" stroke-width="1.3"/>
<circle cx="917" cy="686.1" r="2.75" fill="#fff" stroke="#000" stroke-width="1.3"/>
<circle cx="918.75" cy="686.1" r="2.75" fill="#fff" stroke="#000" stroke-width="1.3"/>
<circle cx="921.9" cy="686.1" r="2.75" fill="#fff" stroke="#000" stroke-width="1.3"/>
<circle cx="925" cy="686.1" r="2.75" fill="#000" stroke="#000" stroke-width="1.3"/>
<circle cx="927.5" cy="686.1" r="2.75" fill="#fff" stroke="#000" stroke-width="1.3"/>
<circle cx="930.6" cy="686.1" r="2.75" fill="#fff" stroke="#000" stroke-width="1.3"/>
<circle cx="933.75" cy="686.1" r="2.75" fill="#fff" stroke="#000" stroke-width="1.3"/>
<circle cx="936.9" cy="686.1" r="2.75" fill="#fff" stroke="#000" stroke-width="1.3"/>
<circle cx="941.9" cy="686.1" r="2.75" fill="#fff" stroke="#000" stroke-width="1.3"/>
<circle cx="950" cy="686.1" r="2.75" fill="#000" stroke="#000" stroke-width="1.3"/>
<circle cx="955.6" cy="686.1" r="2.75" fill="#fff" stroke="#000" stroke-width="1.3"/>
<circle cx="958" cy="686.1" r="2.75" fill="#000" stroke="#000" stroke-width="1.3"/>
<circle cx="961.25" cy="686.1" r="2.75" fill="#fff" stroke="#000" stroke-width="1.3"/>
<circle cx="964" cy="686.1" r="2.75" fill="#000" stroke="#000" stroke-width="1.3"/>
<circle cx="967.5" cy="686.1" r="2.75" fill="#fff" stroke="#000" stroke-width="1.3"/>
<circle cx="970" cy="686.1" r="2.75" fill="#000" stroke="#000" stroke-width="1.3"/>
<circle cx="972.5" cy="686.1" r="2.75" fill="#fff" stroke="#000" stroke-width="1.3"/>
<circle cx="976" cy="686.1" r="2.75" fill="#000" stroke="#000" stroke-width="1.3"/>
<circle cx="979" cy="686.1" r="2.75" fill="#000" stroke="#000" stroke-width="1.3"/>
<circle cx="986.25" cy="686.1" r="2.75" fill="#fff" stroke="#000" stroke-width="1.3"/>
<circle cx="993.75" cy="686.1" r="2.75" fill="#fff" stroke="#000" stroke-width="1.3"/>
<circle cx="1005.5" cy="686.1" r="2.75" fill="#000" stroke="#000" stroke-width="1.3"/>
<circle cx="1009" cy="686.1" r="2.75" fill="#000" stroke="#000" stroke-width="1.3"/>
<circle cx="1012" cy="686.1" r="2.75" fill="#000" stroke="#000" stroke-width="1.3"/>
<circle cx="1014.5" cy="686.1" r="2.75" fill="#000" stroke="#000" stroke-width="1.3"/>
<circle cx="1021.9" cy="686.1" r="2.75" fill="#fff" stroke="#000" stroke-width="1.3"/>
<circle cx="1025" cy="686.1" r="2.75" fill="#fff" stroke="#000" stroke-width="1.3"/>
<circle cx="1039" cy="686.1" r="2.75" fill="#000" stroke="#000" stroke-width="1.3"/>
<circle cx="1043.5" cy="686.1" r="2.75" fill="#000" stroke="#000" stroke-width="1.3"/>
<circle cx="1054.4" cy="686.1" r="2.75" fill="#fff" stroke="#000" stroke-width="1.3"/>
<circle cx="1055.6" cy="686.1" r="2.75" fill="#fff" stroke="#000" stroke-width="1.3"/>
<circle cx="1060" cy="686.1" r="2.75" fill="#fff" stroke="#000" stroke-width="1.3"/>
<circle cx="1065.6" cy="686.1" r="2.75" fill="#fff" stroke="#000" stroke-width="1.3"/>
<circle cx="1072" cy="686.1" r="2.75" fill="#000" stroke="#000" stroke-width="1.3"/>
<circle cx="1075.5" cy="686.1" r="2.75" fill="#000" stroke="#000" stroke-width="1.3"/>
<circle cx="1080" cy="686.1" r="2.75" fill="#fff" stroke="#000" stroke-width="1.3"/>
<circle cx="1082.5" cy="686.1" r="2.75" fill="#fff" stroke="#000" stroke-width="1.3"/>
<circle cx="1087" cy="686.1" r="2.75" fill="#000" stroke="#000" stroke-width="1.3"/>
<circle cx="1090" cy="686.1" r="2.75" fill="#000" stroke="#000" stroke-width="1.3"/>
<circle cx="1095" cy="686.1" r="2.75" fill="#fff" stroke="#000" stroke-width="1.3"/>
<circle cx="1098" cy="686.1" r="2.75" fill="#fff" stroke="#000" stroke-width="1.3"/>
<circle cx="1102.5" cy="686.1" r="2.75" fill="#fff" stroke="#000" stroke-width="1.3"/>
<circle cx="1105" cy="686.1" r="2.75" fill="#000" stroke="#000" stroke-width="1.3"/>
<circle cx="1110" cy="686.1" r="2.75" fill="#fff" stroke="#000" stroke-width="1.3"/>
<circle cx="1119" cy="686.1" r="2.75" fill="#000" stroke="#000" stroke-width="1.3"/>
<circle cx="1122.5" cy="686.1" r="2.75" fill="#000" stroke="#000" stroke-width="1.3"/>
<circle cx="1126" cy="686.1" r="2.75" fill="#000" stroke="#000" stroke-width="1.3"/>
<circle cx="1131.25" cy="686.1" r="2.75" fill="#fff" stroke="#000" stroke-width="1.3"/>
<circle cx="1133.75" cy="686.1" r="2.75" fill="#fff" stroke="#000" stroke-width="1.3"/>
<circle cx="1138" cy="686.1" r="2.75" fill="#fff" stroke="#000" stroke-width="1.3"/>
<circle cx="1143.5" cy="686.1" r="2.75" fill="#000" stroke="#000" stroke-width="1.3"/>
<circle cx="1146.5" cy="686.1" r="2.75" fill="#000" stroke="#000" stroke-width="1.3"/>
<circle cx="1155.6" cy="686.1" r="2.75" fill="#fff" stroke="#000" stroke-width="1.3"/>
<circle cx="1158" cy="686.1" r="2.75" fill="#fff" stroke="#000" stroke-width="1.3"/>
<circle cx="1168" cy="686.1" r="2.75" fill="#000" stroke="#000" stroke-width="1.3"/>
<circle cx="1172.5" cy="686.1" r="2.75" fill="#000" stroke="#000" stroke-width="1.3"/>
<circle cx="1181" cy="686.1" r="2.75" fill="#fff" stroke="#000" stroke-width="1.3"/>
<circle cx="1184" cy="686.1" r="2.75" fill="#000" stroke="#000" stroke-width="1.3"/>
<circle cx="1188" cy="686.1" r="2.75" fill="#000" stroke="#000" stroke-width="1.3"/>
<circle cx="1192" cy="686.1" r="2.75" fill="#000" stroke="#000" stroke-width="1.3"/>
<circle cx="1195" cy="686.1" r="2.75" fill="#fff" stroke="#000" stroke-width="1.3"/>
<circle cx="1199" cy="686.1" r="2.75" fill="#000" stroke="#000" stroke-width="1.3"/>
<circle cx="1201" cy="686.1" r="2.75" fill="#fff" stroke="#000" stroke-width="1.3"/>
<circle cx="1205" cy="686.1" r="2.75" fill="#000" stroke="#000" stroke-width="1.3"/>
<g font-size="13.3" text-anchor="middle" fill="#000" stroke="#000" stroke-width="0.3">
<text transform="translate(153.57 657.5) rotate(-90)">G135</text>
<text transform="translate(171.17 657.5) rotate(-90)">H2O2</text>
<text transform="translate(189 657.5) rotate(-90)">Oxctl</text>
<text transform="translate(210.75 657.5) rotate(-90)">dia15</text>
<text transform="translate(238.85 657.5) rotate(-90)">dia5</text>
<text transform="translate(267.93 657.5) rotate(-90)">C30</text>
<text transform="translate(296.43 657.5) rotate(-90)">LPh</text>
<text transform="translate(313.9 657.5) rotate(-90)">aero</text>
<text transform="translate(343.98 657.5) rotate(-90)">ferm</text>
<text transform="translate(366.32 657.5) rotate(-90)">M9−tran</text>
<text transform="translate(383.57 657.5) rotate(-90)">MG+120</text>
<text transform="translate(393.57 657.5) rotate(-90)">MG+60</text>
<text transform="translate(397.57 657.5) rotate(-90)">MG+90</text>
<text transform="translate(401.57 657.5) rotate(-90)">MG+45</text>
<text transform="translate(405.57 657.5) rotate(-90)">MG+30</text>
<text transform="translate(409.57 657.5) rotate(-90)">MG+25</text>
<text transform="translate(413.57 657.5) rotate(-90)">MG+20</text>
<text transform="translate(417.57 657.5) rotate(-90)">MG+15</text>
<text transform="translate(421.57 657.5) rotate(-90)">MG+10</text>
<text transform="translate(425.57 657.5) rotate(-90)">MG+5</text>
<text transform="translate(429.57 657.5) rotate(-90)">MG+8</text>
<text transform="translate(433.57 657.5) rotate(-90)">MG+3</text>
<text transform="translate(437.57 657.5) rotate(-90)">MG+2</text>
<text transform="translate(441.57 657.5) rotate(-90)">MG−0.2</text>
<text transform="translate(447.57 657.5) rotate(-90)">M6−Fru</text>
<text transform="translate(462.57 657.5) rotate(-90)">GM−0.2</text>
<text transform="translate(467.57 657.5) rotate(-90)">GM+5</text>
<text transform="translate(471.57 657.5) rotate(-90)">GM+10</text>
<text transform="translate(475.57 657.5) rotate(-90)">GM+15</text>
<text transform="translate(479.57 657.5) rotate(-90)">GM+20</text>
<text transform="translate(483.57 657.5) rotate(-90)">GM+25</text>
<text transform="translate(487.57 657.5) rotate(-90)">GM+30</text>
<text transform="translate(491.57 657.5) rotate(-90)">GM+45</text>
<text transform="translate(496.57 657.5) rotate(-90)">GM+60</text>
<text transform="translate(504.57 657.5) rotate(-90)">GM+90</text>
<text transform="translate(509.57 657.5) rotate(-90)">GM+120</text>
<text transform="translate(519.58 657.5) rotate(-90)">GM+45</text>
<text transform="translate(524.58 657.5) rotate(-90)">GM+60</text>
<text transform="translate(529.58 657.5) rotate(-90)">GM+90</text>
<text transform="translate(540.17 657.5) rotate(-90)">M9−exp</text>
<text transform="translate(562.65 657.5) rotate(-90)">Mal</text>
<text transform="translate(581.35 657.5) rotate(-90)">Glu</text>
<text transform="translate(598.48 657.5) rotate(-90)">BMM</text>
<text transform="translate(624.85 657.5) rotate(-90)">Etha</text>
<text transform="translate(652.85 657.5) rotate(-90)">Gly</text>
<text transform="translate(687.15 657.5) rotate(-90)">HiOs</text>
<text transform="translate(712.98 657.5) rotate(-90)">S2</text>
<text transform="translate(741.48 657.5) rotate(-90)">S4</text>
<text transform="translate(760.18 657.5) rotate(-90)">S5</text>
<text transform="translate(789.48 657.5) rotate(-90)">S7</text>
<text transform="translate(816.48 657.5) rotate(-90)">S6</text>
<text transform="translate(848.98 657.5) rotate(-90)">B36</text>
<text transform="translate(874.5 657.5) rotate(-90)">LoTm</text>
<text transform="translate(901.75 657.5) rotate(-90)">G/S</text>
<text transform="translate(923.33 657.5) rotate(-90)">SMMPr</text>
<text transform="translate(933.58 657.5) rotate(-90)">T−4.40H</text>
<text transform="translate(938.58 657.5) rotate(-90)">T−2.40H</text>
<text transform="translate(943.08 657.5) rotate(-90)">T0.0H</text>
<text transform="translate(960.58 657.5) rotate(-90)">T1.0H</text>
<text transform="translate(965.58 657.5) rotate(-90)">T2.0H</text>
<text transform="translate(970.58 657.5) rotate(-90)">T3.0H</text>
<text transform="translate(976.58 657.5) rotate(-90)">T4.0H</text>
<text transform="translate(991.68 657.5) rotate(-90)">M9−stat</text>
<text transform="translate(1027.67 657.5) rotate(-90)">Sw</text>
<text transform="translate(1061.08 657.5) rotate(-90)">LBGstat</text>
<text transform="translate(1086.17 657.5) rotate(-90)">M0t45</text>
<text transform="translate(1101.35 657.5) rotate(-90)">Lbtran</text>
<text transform="translate(1114.67 657.5) rotate(-90)">M40t45</text>
<text transform="translate(1136.83 657.5) rotate(-90)">M0t90</text>
<text transform="translate(1161.17 657.5) rotate(-90)">BI</text>
<text transform="translate(1187.48 657.5) rotate(-90)">M0t45</text>
<text transform="translate(1197.95 657.5) rotate(-90)">Lbexp</text>
<text transform="translate(1205.95 657.5) rotate(-90)">Lbexp</text>
<text transform="translate(143.32 714.5) rotate(-90)">G150</text>
<text transform="translate(159.38 714.5) rotate(-90)">G180</text>
<text transform="translate(178.7 714.5) rotate(-90)">Paraq</text>
<text transform="translate(196.88 714.5) rotate(-90)">LBGexp</text>
<text transform="translate(226.5 714.5) rotate(-90)">Diami</text>
<text transform="translate(255.17 714.5) rotate(-90)">C90</text>
<text transform="translate(282.35 714.5) rotate(-90)">Cold</text>
<text transform="translate(304.72 714.5) rotate(-90)">HPh</text>
<text transform="translate(332.77 714.5) rotate(-90)">nit</text>
<text transform="translate(361.47 714.5) rotate(-90)">GM+150</text>
<text transform="translate(376.07 714.5) rotate(-90)">MG+150</text>
<text transform="translate(390.57 714.5) rotate(-90)">MG+90</text>
<text transform="translate(395.57 714.5) rotate(-90)">MG+45</text>
<text transform="translate(399.57 714.5) rotate(-90)">MG+25</text>
<text transform="translate(403.57 714.5) rotate(-90)">MG+15</text>
<text transform="translate(407.57 714.5) rotate(-90)">MG+10</text>
<text transform="translate(411.57 714.5) rotate(-90)">MG+5</text>
<text transform="translate(415.57 714.5) rotate(-90)">MG+0</text>
<text transform="translate(419.57 714.5) rotate(-90)">MG+8</text>
<text transform="translate(423.57 714.5) rotate(-90)">MG+4</text>
<text transform="translate(427.57 714.5) rotate(-90)">MG+2</text>
<text transform="translate(431.57 714.5) rotate(-90)">MG+1</text>
<text transform="translate(435.57 714.5) rotate(-90)">MG−0.1</text>
<text transform="translate(441.57 714.5) rotate(-90)">MG−Fru</text>
<text transform="translate(447.57 714.5) rotate(-90)">LBGtrK</text>
<text transform="translate(456.75 714.5) rotate(-90)">Glucon</text>
<text transform="translate(461.57 714.5) rotate(-90)">GM−0.1</text>
<text transform="translate(468.57 714.5) rotate(-90)">GM+5</text>
<text transform="translate(472.57 714.5) rotate(-90)">GM+10</text>
<text transform="translate(476.57 714.5) rotate(-90)">GM+15</text>
<text transform="translate(480.57 714.5) rotate(-90)">GM+20</text>
<text transform="translate(484.57 714.5) rotate(-90)">GM+25</text>
<text transform="translate(488.57 714.5) rotate(-90)">GM+30</text>
<text transform="translate(492.57 714.5) rotate(-90)">GM+120</text>
<text transform="translate(500.57 714.5) rotate(-90)">GM+45</text>
<text transform="translate(507.57 714.5) rotate(-90)">GM+60</text>
<text transform="translate(514.58 714.5) rotate(-90)">GM+90</text>
<text transform="translate(520.58 714.5) rotate(-90)">GM+45</text>
<text transform="translate(526.58 714.5) rotate(-90)">GM+25</text>
<text transform="translate(532.58 714.5) rotate(-90)">GM+15</text>
<text transform="translate(548.35 714.5) rotate(-90)">M/G</text>
<text transform="translate(574.75 714.5) rotate(-90)">Fru</text>
<text transform="translate(590.18 714.5) rotate(-90)">SMM</text>
<text transform="translate(609.25 714.5) rotate(-90)">Heat</text>
<text transform="translate(640.15 714.5) rotate(-90)">Salt</text>
<text transform="translate(668.43 714.5) rotate(-90)">HiTm</text>
<text transform="translate(700.18 714.5) rotate(-90)">S1</text>
<text transform="translate(730.18 714.5) rotate(-90)">S3</text>
<text transform="translate(752.68 714.5) rotate(-90)">S3</text>
<text transform="translate(770.68 714.5) rotate(-90)">S6</text>
<text transform="translate(797.68 714.5) rotate(-90)">S8</text>
<text transform="translate(837.48 714.5) rotate(-90)">BT</text>
<text transform="translate(858.08 714.5) rotate(-90)">B60</text>
<text transform="translate(887.45 714.5) rotate(-90)">Pyr</text>
<text transform="translate(913.35 714.5) rotate(-90)">Glucon</text>
<text transform="translate(931.58 714.5) rotate(-90)">T−5.40H</text>
<text transform="translate(936.58 714.5) rotate(-90)">T−3.40H</text>
<text transform="translate(941.58 714.5) rotate(-90)">T−0.40H</text>
<text transform="translate(955.58 714.5) rotate(-90)">T0.30H</text>
<text transform="translate(960.58 714.5) rotate(-90)">T1.30H</text>
<text transform="translate(965.58 714.5) rotate(-90)">T2.30H</text>
<text transform="translate(970.58 714.5) rotate(-90)">T3.30H</text>
<text transform="translate(975.58 714.5) rotate(-90)">T4.30H</text>
<text transform="translate(980.58 714.5) rotate(-90)">T5.0H</text>
<text transform="translate(1010.48 714.5) rotate(-90)">BC</text>
<text transform="translate(1044.08 714.5) rotate(-90)">LPhT</text>
<text transform="translate(1076.83 714.5) rotate(-90)">LBGtran</text>
<text transform="translate(1091.83 714.5) rotate(-90)">M40t45</text>
<text transform="translate(1110.98 714.5) rotate(-90)">Mt0</text>
<text transform="translate(1123.67 714.5) rotate(-90)">M40t90</text>
<text transform="translate(1148.65 714.5) rotate(-90)">Lbstat</text>
<text transform="translate(1172.83 714.5) rotate(-90)">S0</text>
<text transform="translate(1191.35 714.5) rotate(-90)">dia0</text>
<text transform="translate(1204.08 714.5) rotate(-90)">Mt0</text>
<text transform="translate(1210.08 714.5) rotate(-90)">Mt0</text>
</g>
</svg></body></html>
